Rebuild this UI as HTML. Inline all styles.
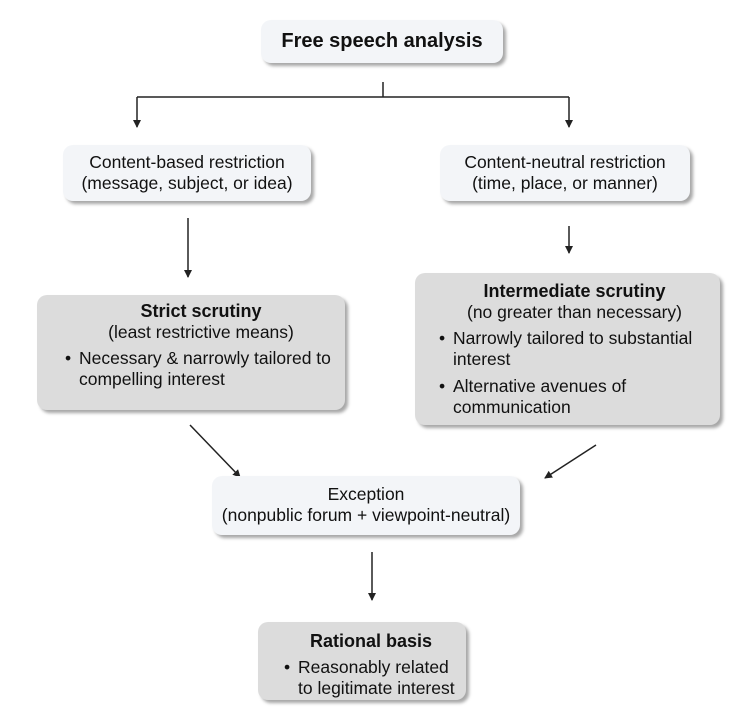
<!DOCTYPE html>
<html><head><style>
body{margin:0;width:737px;height:715px;background:#fff;font-family:"Liberation Sans",Arial,sans-serif;color:#111;position:relative;overflow:hidden}
.b{position:absolute;box-sizing:border-box;border-radius:10px;text-align:center;font-size:17.5px;line-height:21px;box-shadow:3px 3px 3px rgba(0,0,0,.35)}
.w{background:#f3f5f8}
.g{background:#dcdcdc}
.t{font-weight:bold;font-size:18px}
ul{margin:5px 0 0 0;padding:0 0 0 16px;text-align:left;list-style:none}
li{position:relative;margin-bottom:6px}
li:before{content:"•";position:absolute;left:-14px}
</style></head><body>
<svg width="737" height="715" style="position:absolute;left:0;top:0">
<defs><marker id="a" markerWidth="8" markerHeight="8" refX="7" refY="4" orient="auto" markerUnits="userSpaceOnUse"><path d="M0,0 L8,4 L0,8 z" fill="#222"/></marker></defs>
<g stroke="#222" stroke-width="1.5" fill="none">
<line x1="383" y1="82" x2="383" y2="97"/>
<line x1="137" y1="97" x2="569" y2="97"/>
<line x1="137" y1="97" x2="137" y2="127" marker-end="url(#a)"/>
<line x1="569" y1="97" x2="569" y2="127" marker-end="url(#a)"/>
<line x1="188" y1="218" x2="188" y2="277" marker-end="url(#a)"/>
<line x1="569" y1="226" x2="569" y2="253" marker-end="url(#a)"/>
<line x1="190" y1="425" x2="240" y2="477" marker-end="url(#a)"/>
<line x1="596" y1="445" x2="545" y2="478" marker-end="url(#a)"/>
<line x1="372" y1="552" x2="372" y2="600" marker-end="url(#a)"/>
</g></svg>
<div class="b w" style="left:261px;top:20px;width:242px;height:43px;padding-top:10px;font-weight:bold;font-size:20px;line-height:22px">Free speech analysis</div>
<div class="b w" style="left:63px;top:145px;width:248px;height:56px;padding-top:7px">Content-based restriction<br>(message, subject, or idea)</div>
<div class="b w" style="left:440px;top:145px;width:250px;height:56px;padding-top:7px">Content-neutral restriction<br>(time, place, or manner)</div>
<div class="b g" style="left:37px;top:295px;width:308px;height:115px;padding:6px 6px 0 26px"><div class="t">Strict scrutiny</div>(least restrictive means)<ul><li>Necessary &amp; narrowly tailored to compelling interest</li></ul></div>
<div class="b g" style="left:415px;top:273px;width:305px;height:152px;padding:8px 8px 0 22px"><div class="t">Intermediate scrutiny</div>(no greater than necessary)<ul style="padding-left:16px"><li>Narrowly tailored to substantial interest</li><li style="padding-right:80px">Alternative avenues of communication</li></ul></div>
<div class="b w" style="left:212px;top:476px;width:308px;height:59px;padding-top:8px">Exception<br>(nonpublic forum + viewpoint-neutral)</div>
<div class="b g" style="left:258px;top:622px;width:208px;height:78px;padding:9px 6px 0 24px"><div class="t">Rational basis</div><ul style="margin-top:5px"><li>Reasonably related to legitimate interest</li></ul></div>
</body></html>
